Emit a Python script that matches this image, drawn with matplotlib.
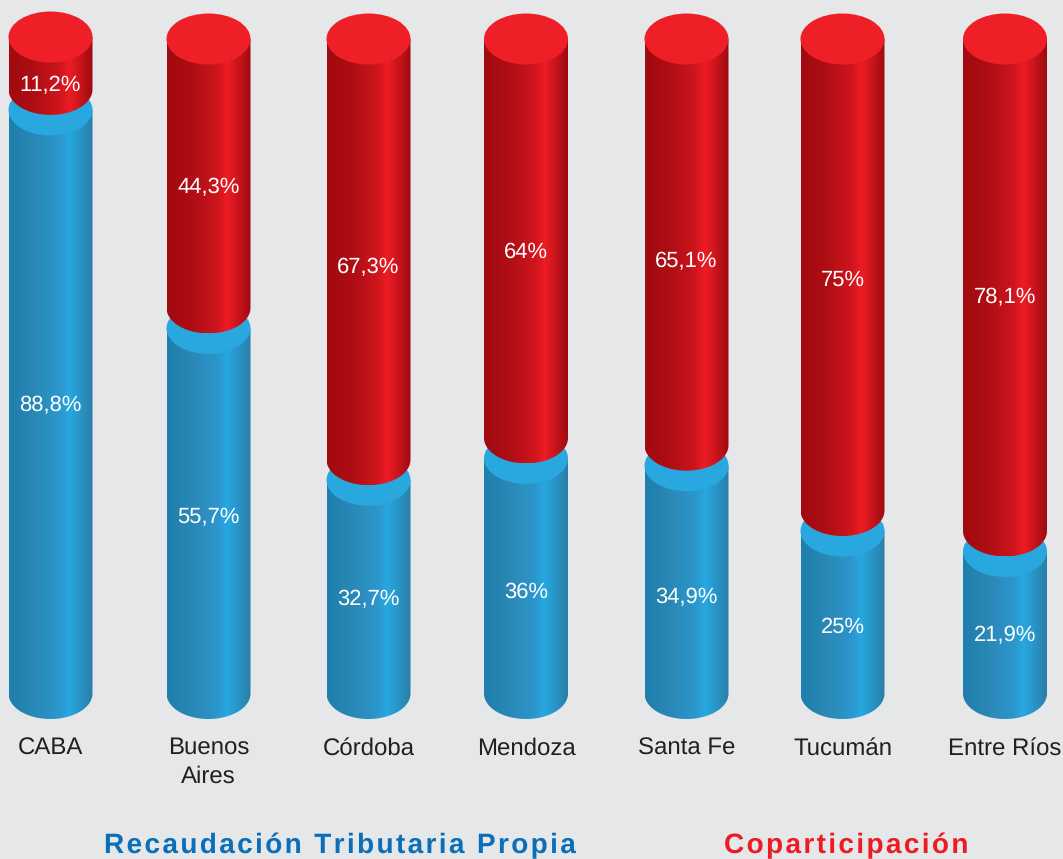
# Recaudacion propia vs coparticipacion por jurisdiccion, columnas cilindricas

import matplotlib

matplotlib.use("Agg")
import matplotlib.pyplot as plt
import numpy as np
from matplotlib.colors import LinearSegmentedColormap
from matplotlib.patches import Ellipse, PathPatch
from matplotlib.path import Path

plt.rcParams["font.family"] = ["Liberation Sans", "DejaVu Sans"]
plt.rcParams["text.hinting"] = "no_hinting"
plt.rcParams["text.hinting_factor"] = 1

# Data
provinces = ["CABA", "Buenos\nAires", "Córdoba", "Mendoza", "Santa Fe", "Tucumán", "Entre Ríos"]
own_revenue = [88.8, 55.7, 32.7, 36, 34.9, 25, 21.9]
coparticipation = [11.2, 44.3, 67.3, 64, 65.1, 75, 78.1]
own_labels = ["88,8%", "55,7%", "32,7%", "36%", "34,9%", "25%", "21,9%"]
copart_labels = ["11,2%", "44,3%", "67,3%", "64%", "65,1%", "75%", "78,1%"]

# Layout, in image pixels
W, H = 1063, 859
centers = [50.5, 208.5, 368.5, 526, 686.5, 842.5, 1005]
own_label_px = [406, 517, 600, 592, 597, 627, 635]
copart_label_px = [85, 188, 268, 252, 262, 280, 297]
top_px = [37, 39, 39, 39, 39, 39, 39]
half_w = 42
cap_h = 25.5  # half height of the ellipses
px_per_pct = 6.6
zero_px = 696  # where 0% would sit on the image
base_px = 693.5  # center of the bottom ellipse
gap_px = 20.5  # red column bottom sits above the blue cap

BACKGROUND = "#E6E7E9"
RED_CAP = "#EE1F26"
BLUE_CAP = "#29A8E0"
red_map = LinearSegmentedColormap.from_list(
    "red", [(0, "#A00A10"), (0.3, "#AE0E14"), (0.6, "#CE151D"), (0.72, "#EE1C25"), (1, "#9E0B11")]
)
blue_map = LinearSegmentedColormap.from_list(
    "blue", [(0, "#1F7EAC"), (0.3, "#2A88B6"), (0.6, "#2C96CC"), (0.72, "#27A8E0"), (1, "#2A7EA8")]
)


def to_value(px):
    # image pixel row to percentage on the y axis
    return (zero_px - px) / px_per_pct


fig = plt.figure(figsize=(W / 100, H / 100), dpi=100, facecolor=BACKGROUND)
ax = fig.add_axes([0, 0, 1, 1])
ax.set_facecolor(BACKGROUND)
ax.axis("off")

cap_data = cap_h / px_per_pct
gradient = np.linspace(0, 1, 256).reshape(1, -1)


def cylinder(cx, y_top, y_bottom, cmap, cap_color, z):
    # body: straight sides with a rounded lower edge, shaded left to right
    t = np.linspace(0, np.pi, 80)
    xs = np.concatenate([[cx + half_w], cx + half_w * np.cos(t), [cx - half_w]])
    ys = np.concatenate([[y_top], y_bottom - cap_data * np.sin(t), [y_top]])
    body = Path(np.column_stack([xs, ys]))
    im = ax.imshow(
        gradient,
        extent=(cx - half_w, cx + half_w, y_bottom - cap_data, y_top),
        aspect="auto",
        cmap=cmap,
        interpolation="bilinear",
        zorder=z,
    )
    im.set_clip_path(PathPatch(body, transform=ax.transData))
    ax.add_patch(
        Ellipse((cx, y_top), 2 * half_w, 2 * cap_data, facecolor=cap_color, edgecolor="none",
                zorder=z + 1)
    )


for i, province in enumerate(provinces):
    cx = centers[i]
    own = own_revenue[i]
    # own revenue column, then coparticipation stacked on top of it
    cylinder(cx, own, to_value(base_px), blue_map, BLUE_CAP, 1)
    cylinder(cx, to_value(top_px[i]), own + gap_px / px_per_pct, red_map, RED_CAP, 3)

    ax.text(cx, to_value(own_label_px[i]), own_labels[i], color="white", fontsize=15.8,
            ha="center", va="center", zorder=5)
    ax.text(cx, to_value(copart_label_px[i]), copart_labels[i], color="white", fontsize=15.8,
            ha="center", va="center", zorder=5)
    # va="baseline" anchors the last line of a multi-line label
    baseline = 755 + 28 * province.count("\n")
    ax.text(cx, to_value(baseline), province, color="#231F20", fontsize=17.4, ha="center",
            va="baseline", linespacing=1.4)

# Legend, tracked out with hair spaces
HAIR = "\u200a"
ax.text(340, to_value(845.5), HAIR.join("Recaudación Tributaria Propia"), color="#0A6EB9",
        fontsize=20.2, fontweight="bold", ha="center", va="center")
ax.text(846, to_value(845.5), HAIR.join("Coparticipación"), color="#ED1C24",
        fontsize=20.2, fontweight="bold", ha="center", va="center")

ax.set_xlim(0, W)
ax.set_ylim(to_value(H), to_value(0))

fig.savefig("out.png", dpi=100, facecolor=BACKGROUND)
